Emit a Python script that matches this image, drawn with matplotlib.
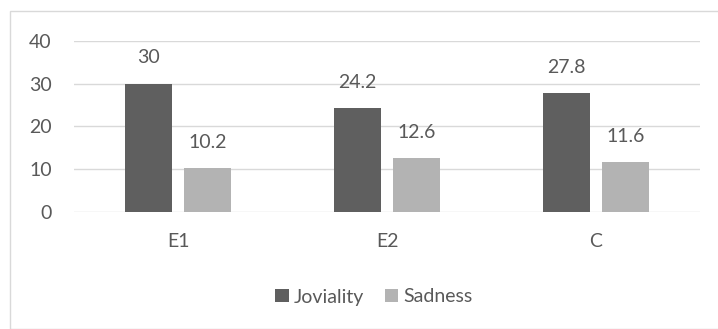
import matplotlib
matplotlib.use("Agg")
import matplotlib.pyplot as plt
from matplotlib.patches import Rectangle
import numpy as np

categories = ["E1", "E2", "C"]
joviality = [30, 24.2, 27.8]
sadness = [10.2, 12.6, 11.6]
yticks = [0, 10, 20, 30, 40]

DARK = "#5f5f5f"
LIGHT = "#b3b3b3"
TXT = "#595959"
GRID = "#d9d9d9"
FS = 14

plt.rcParams["font.family"] = ["Lato", "DejaVu Sans"]

W, H = 718, 329
fig = plt.figure(figsize=(W / 100, H / 100), dpi=100)
# chart border
fig.patches.append(Rectangle((10 / W, 0), 2, 1 - 11 / H, transform=fig.transFigure,
                             fill=False, ec=GRID, lw=1.0))

ax = fig.add_axes([74 / W, 1 - 212 / H, (700 - 74) / W, (212 - 40.7) / H])
x = np.arange(len(categories))
off, bw = 0.142, 0.225
b1 = ax.bar(x - off, joviality, bw, color=DARK, label="Joviality", zorder=3)
b2 = ax.bar(x + off, sadness, bw, color=LIGHT, label="Sadness", zorder=3)

for bars, vals in ((b1, joviality), (b2, sadness)):
    for r, v in zip(bars, vals):
        ax.annotate(f"{v:g}", (r.get_x() + r.get_width() / 2, v), xytext=(0, 18.5),
                    textcoords="offset points", ha="center", va="center",
                    fontsize=FS, color=TXT)

ax.set_xlim(-0.5, len(categories) - 0.5)
ax.set_ylim(0, 40)
ax.set_yticks(yticks)
ax.set_xticks(x)
ax.set_xticklabels(categories)
ax.tick_params(axis="both", length=0, labelsize=FS, colors=TXT)
ax.tick_params(axis="x", pad=15)
ax.tick_params(axis="y", pad=16)
ax.grid(axis="y", color=GRID, lw=1.0, zorder=0)
for s in ax.spines.values():
    s.set_visible(False)

fig.legend(handles=[b1, b2], loc="center", bbox_to_anchor=(374 / W, 1 - 297 / H),
           ncol=2, frameon=False, fontsize=FS, handlelength=0.68, handleheight=0.68,
           handletextpad=0.25, columnspacing=1.1, labelcolor=TXT)

fig.savefig("out.png", dpi=100)
